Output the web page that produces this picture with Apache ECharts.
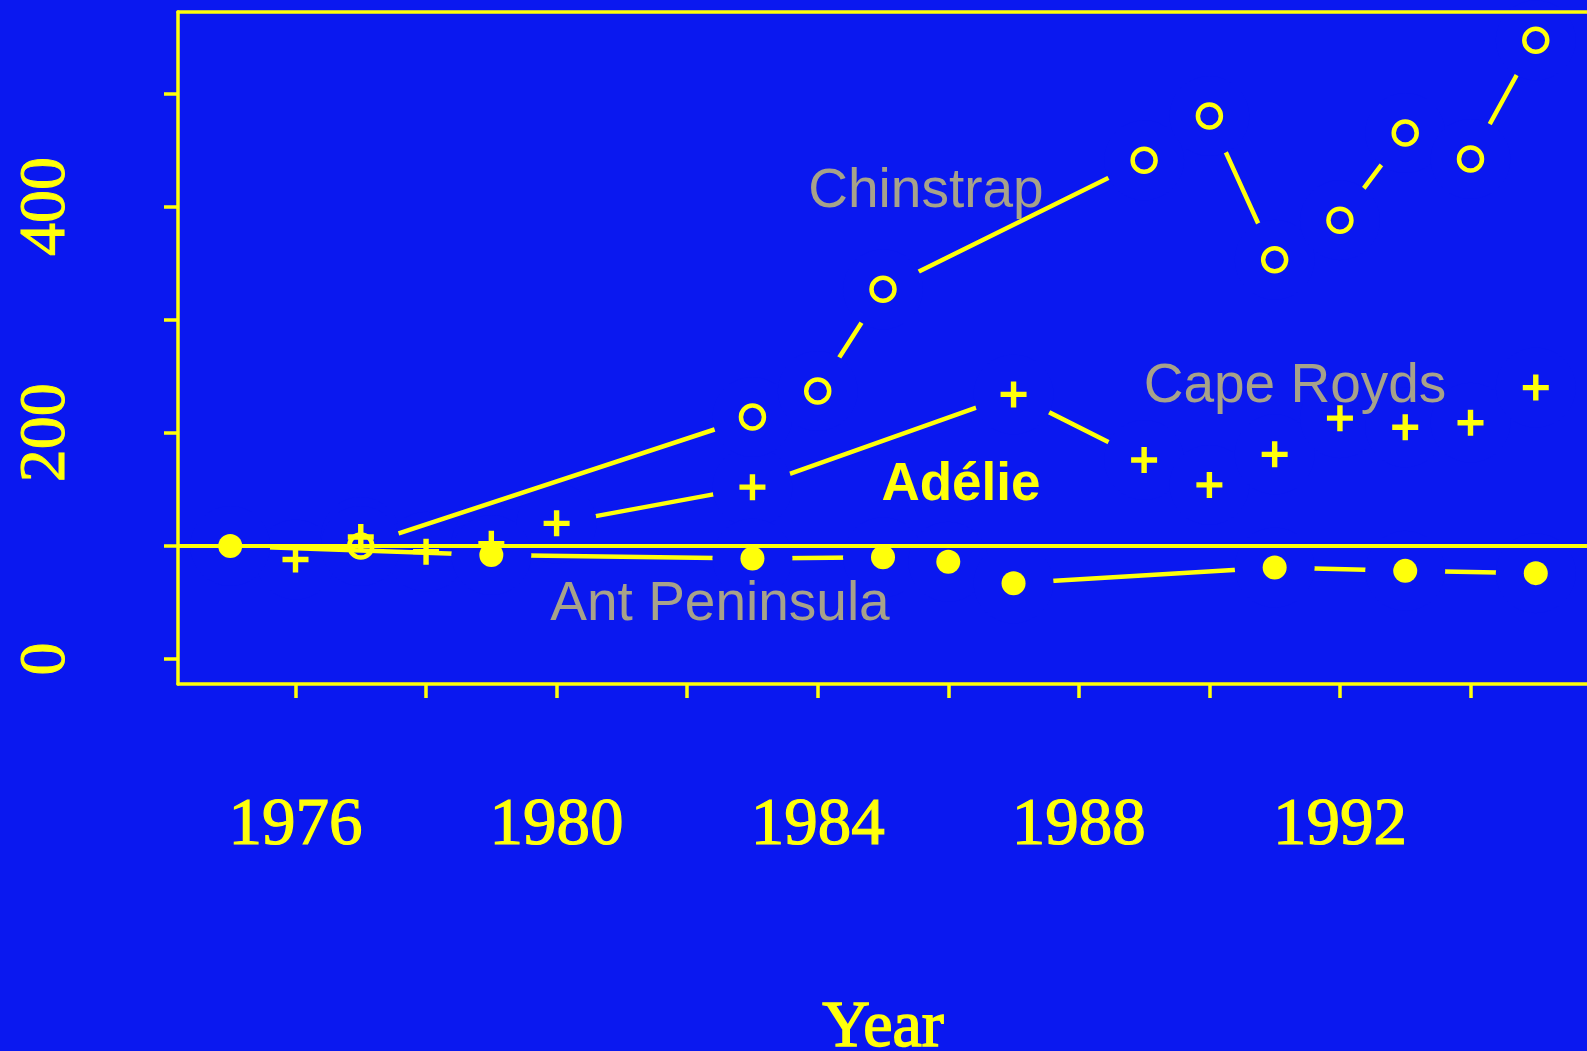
<!DOCTYPE html>
<html>
<head>
<meta charset="utf-8">
<script src="https://cdn.jsdelivr.net/npm/echarts@6/dist/echarts.min.js"></script>
<style>
html,body{margin:0;padding:0;background:#0a18f0;}
#c{width:1587px;height:1051px;}
</style>
</head>
<body>
<div id="c"></div>
<script>
// ---- data ----
const chinstrapYears  = [1977, 1983, 1984, 1985, 1989, 1990, 1991, 1992, 1993, 1994, 1995];
const chinstrapValues = [100, 214, 237, 327, 441, 480, 353, 388, 465, 442, 547];

const capeRoydsYears  = [1976, 1977, 1978, 1979, 1980, 1983, 1987, 1989, 1990, 1991, 1992, 1993, 1994, 1995];
const capeRoydsValues = [88, 108, 95, 102, 120, 152, 234, 176, 154, 181, 213, 205, 209, 240];

const peninsulaYears  = [1975, 1979, 1983, 1985, 1986, 1987, 1991, 1993, 1995];
const peninsulaValues = [100, 92, 89, 90, 86, 67, 81, 78, 76];

const baselineValue = 100;

const xLimits = [1974.2, 1995.8];
const yLimits = [-22, 572];
const xTickYears  = [1976, 1978, 1980, 1982, 1984, 1986, 1988, 1990, 1992, 1994];
const xLabelYears = [1976, 1980, 1984, 1988, 1992];
const yTickValues  = [0, 100, 200, 300, 400, 500];
const yLabelValues = [0, 200, 400];

const xAxisTitle = 'Year';
const seriesLabels = ['Chinstrap', 'Cape Royds', 'Ant Peninsula', 'Adélie'];

// ---- styling ----
const BG = '#0a18f0';
const YEL = '#ffff0a';
const GREY = '#a7a28a';
const GAP = 80;              // blank space around points (R type="b")
const PLUS = 'path://M9.5,0H14.5V9.5H24V14.5H14.5V24H9.5V14.5H0V9.5H9.5Z';

const pairs = (xs, ys) => xs.map((x, i) => [x, ys[i]]);
const chin = pairs(chinstrapYears, chinstrapValues);
const cape = pairs(capeRoydsYears, capeRoydsValues);
const pen  = pairs(peninsulaYears, peninsulaValues);
const baseline = xLimits.map(x => [x, baselineValue]);

function lineSeries(data, z, width) {
  return { type: 'line', data, symbol: 'none', showSymbol: false, silent: true, z,
           lineStyle: { color: YEL, width: width || 4.5, opacity: 1 }, emphasis: { disabled: true } };
}
function maskSeries(data, z) {
  return { type: 'scatter', data, symbol: 'circle', symbolSize: GAP, silent: true, z,
           itemStyle: { color: BG, opacity: 1 }, emphasis: { disabled: true } };
}

const chart = echarts.init(document.getElementById('c'), null, { renderer: 'canvas' });
chart.setOption({
  animation: false,
  backgroundColor: BG,
  grid: { left: 178, top: 12, width: 1410, height: 672, containLabel: false, outerBoundsMode: 'none', show: false },
  xAxis: [{
    type: 'value', min: xLimits[0], max: xLimits[1], z: 10,
    axisLine: { show: true, onZero: false, lineStyle: { color: YEL, width: 3.5 } },
    axisTick: { show: true, length: 14, customValues: xTickYears, lineStyle: { color: YEL, width: 3.5 } },
    axisLabel: { show: true, customValues: xLabelYears, margin: 109, color: YEL,
                 textBorderColor: YEL, textBorderWidth: 1.2,
                 formatter: v => String(v),
                 fontFamily: 'Liberation Serif', fontSize: 67, lineHeight: 67 },
    splitLine: { show: false },
    name: xAxisTitle, nameLocation: 'middle', nameGap: 312,
    nameTextStyle: { color: YEL, textBorderColor: YEL, textBorderWidth: 1.5,
                     fontFamily: 'Liberation Serif', fontSize: 66, lineHeight: 66 }
  }, {
    type: 'value', position: 'top', min: xLimits[0], max: xLimits[1], z: 10,
    axisLine: { show: true, onZero: false, lineStyle: { color: YEL, width: 3.5 } },
    axisTick: { show: false }, axisLabel: { show: false }, splitLine: { show: false }
  }],
  yAxis: [{
    type: 'value', min: yLimits[0], max: yLimits[1], z: 10,
    axisLine: { show: true, onZero: false, lineStyle: { color: YEL, width: 3.5 } },
    axisTick: { show: true, length: 14, customValues: yTickValues, lineStyle: { color: YEL, width: 3.5 } },
    axisLabel: { show: true, customValues: yLabelValues, rotate: 90, margin: 98, color: YEL,
                 textBorderColor: YEL, textBorderWidth: 1,
                 formatter: v => String(v),
                 fontFamily: 'Liberation Serif', fontSize: 66, lineHeight: 66 },
    splitLine: { show: false }
  }],
  series: [
    lineSeries(cape, 2), maskSeries(cape, 3),
    lineSeries(chin, 4), maskSeries(chin, 5),
    lineSeries(pen, 6),  maskSeries(pen, 7),
    lineSeries(baseline, 8, 4),
    { type: 'scatter', data: chin, symbol: 'circle', symbolSize: 23, z: 9, silent: true,
      itemStyle: { color: 'rgba(0,0,0,0)', borderColor: YEL, borderWidth: 4.5, opacity: 1 }, emphasis: { disabled: true } },
    { type: 'scatter', data: cape, symbol: PLUS, symbolSize: 26, z: 9, silent: true,
      itemStyle: { color: YEL, opacity: 1 }, emphasis: { disabled: true } },
    { type: 'scatter', data: pen, symbol: 'circle', symbolSize: 24, z: 9, silent: true,
      itemStyle: { color: YEL, opacity: 1 }, emphasis: { disabled: true } }
  ],
  graphic: [
    { type: 'text', x: 926, y: 192, z: 100, silent: true,
      style: { text: seriesLabels[0], fill: GREY, font: '55px "Liberation Sans"', textAlign: 'center', textVerticalAlign: 'middle', align: 'center', verticalAlign: 'middle' } },
    { type: 'text', x: 1295, y: 387, z: 100, silent: true,
      style: { text: seriesLabels[1], fill: GREY, font: '55px "Liberation Sans"', textAlign: 'center', textVerticalAlign: 'middle', align: 'center', verticalAlign: 'middle' } },
    { type: 'text', x: 720, y: 605, z: 100, silent: true,
      style: { text: seriesLabels[2], fill: GREY, font: '55px "Liberation Sans"', textAlign: 'center', textVerticalAlign: 'middle', align: 'center', verticalAlign: 'middle' } },
    { type: 'text', x: 961, y: 485, z: 100, silent: true,
      style: { text: seriesLabels[3], fill: YEL, font: 'bold 53px "Liberation Sans"', textAlign: 'center', textVerticalAlign: 'middle', align: 'center', verticalAlign: 'middle' } }
  ]
});
</script>
</body>
</html>
